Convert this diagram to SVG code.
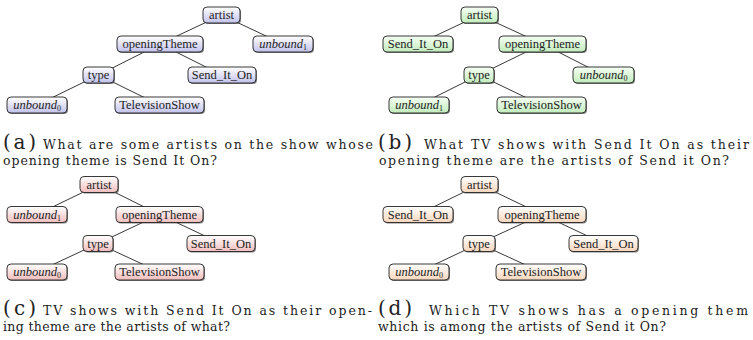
<svg xmlns="http://www.w3.org/2000/svg" width="753" height="340" viewBox="0 0 753 340">
  <defs>
    <linearGradient id="gA" x1="0" y1="0" x2="0" y2="1">
      <stop offset="0" stop-color="#ffffff"/>
      <stop offset="1" stop-color="#c2c2ec"/>
    </linearGradient>
    <linearGradient id="gB" x1="0" y1="0" x2="0" y2="1">
      <stop offset="0" stop-color="#f6fff4"/>
      <stop offset="1" stop-color="#c2ecbc"/>
    </linearGradient>
    <linearGradient id="gC" x1="0" y1="0" x2="0" y2="1">
      <stop offset="0" stop-color="#ffffff"/>
      <stop offset="1" stop-color="#f2bdbd"/>
    </linearGradient>
    <linearGradient id="gD" x1="0" y1="0" x2="0" y2="1">
      <stop offset="0" stop-color="#ffffff"/>
      <stop offset="1" stop-color="#f7d6bc"/>
    </linearGradient>
  </defs>
  <style>
    .edge { stroke: #222; stroke-width: 0.9; fill: none; }
    .sh { fill: #555; opacity: 0.75; }
    .box { stroke: #222; stroke-width: 0.9; }
    .a .box { fill: url(#gA); }
    .b .box { fill: url(#gB); }
    .c .box { fill: url(#gC); }
    .d .box { fill: url(#gD); }
    .lbl { font-size: 12.5px; fill: #222; text-anchor: middle; }
    .it { font-style: italic; }
    .sub { font-style: normal; font-size: 8px; }
    .tag { font-size: 20px; fill: #222; }
    .cap { font-size: 12.5px; fill: #222; }
  </style>

  <!-- connectors: drawn centre to centre, node boxes cover the ends -->
  <g id="connectors">
    <!-- tree a -->
    <line class="edge" x1="221.5" y1="15" x2="160" y2="44"/>
    <line class="edge" x1="221.5" y1="15" x2="283" y2="44"/>
    <line class="edge" x1="160" y1="44" x2="98.5" y2="75"/>
    <line class="edge" x1="160" y1="44" x2="222" y2="75"/>
    <line class="edge" x1="98.5" y1="75" x2="37" y2="105"/>
    <line class="edge" x1="98.5" y1="75" x2="159.5" y2="105"/>
    <!-- tree b -->
    <line class="edge" x1="479.5" y1="15" x2="418" y2="44"/>
    <line class="edge" x1="479.5" y1="15" x2="542.5" y2="44"/>
    <line class="edge" x1="542.5" y1="44" x2="479" y2="75"/>
    <line class="edge" x1="542.5" y1="44" x2="603.5" y2="75"/>
    <line class="edge" x1="479" y1="75" x2="419" y2="105"/>
    <line class="edge" x1="479" y1="75" x2="541.5" y2="105"/>
    <!-- tree c -->
    <line class="edge" x1="99" y1="184.5" x2="37" y2="214.5"/>
    <line class="edge" x1="99" y1="184.5" x2="159.5" y2="214.5"/>
    <line class="edge" x1="159.5" y1="214.5" x2="98" y2="243.5"/>
    <line class="edge" x1="159.5" y1="214.5" x2="221" y2="243.5"/>
    <line class="edge" x1="98" y1="243.5" x2="37" y2="272"/>
    <line class="edge" x1="98" y1="243.5" x2="159.5" y2="272"/>
    <!-- tree d -->
    <line class="edge" x1="479.5" y1="184.5" x2="418" y2="214.5"/>
    <line class="edge" x1="479.5" y1="184.5" x2="542" y2="214.5"/>
    <line class="edge" x1="542" y1="214.5" x2="479" y2="243.5"/>
    <line class="edge" x1="542" y1="214.5" x2="603.5" y2="243.5"/>
    <line class="edge" x1="479" y1="243.5" x2="419" y2="272"/>
    <line class="edge" x1="479" y1="243.5" x2="541" y2="272"/>
  </g>

  <g font-family="Liberation Serif, serif">
  <!-- tree a -->
  <g class="a">
    <g id="a-artist"><rect class="sh" x="204" y="8" width="37" height="16" rx="4"/><rect class="box" x="203" y="7" width="37" height="16" rx="4"/><text class="lbl" x="221.5" y="19">artist</text></g>
    <g id="a-openingTheme"><rect class="sh" x="118" y="37" width="86" height="16" rx="4"/><rect class="box" x="117" y="36" width="86" height="16" rx="4"/><text class="lbl" x="160" y="48">openingTheme</text></g>
    <g id="a-unbound1"><rect class="sh" x="254" y="37" width="60" height="16" rx="4"/><rect class="box" x="253" y="36" width="60" height="16" rx="4"/><text class="lbl it" x="283" y="48">unbound<tspan class="sub" dy="2">1</tspan></text></g>
    <g id="a-type"><rect class="sh" x="84" y="68" width="31" height="16" rx="4"/><rect class="box" x="83" y="67" width="31" height="16" rx="4"/><text class="lbl" x="98.5" y="79">type</text></g>
    <g id="a-sendItOn"><rect class="sh" x="189" y="68" width="68" height="16" rx="4"/><rect class="box" x="188" y="67" width="68" height="16" rx="4"/><text class="lbl" x="222" y="79">Send_It_On</text></g>
    <g id="a-unbound0"><rect class="sh" x="8" y="98" width="60" height="16" rx="4"/><rect class="box" x="7" y="97" width="60" height="16" rx="4"/><text class="lbl it" x="37" y="109">unbound<tspan class="sub" dy="2">0</tspan></text></g>
    <g id="a-televisionShow"><rect class="sh" x="116" y="98" width="89" height="16" rx="4"/><rect class="box" x="115" y="97" width="89" height="16" rx="4"/><text class="lbl" x="159.5" y="109">TelevisionShow</text></g>
  </g>

  <!-- tree b -->
  <g class="b">
    <g id="b-artist"><rect class="sh" x="462" y="8" width="37" height="16" rx="4"/><rect class="box" x="461" y="7" width="37" height="16" rx="4"/><text class="lbl" x="479.5" y="19">artist</text></g>
    <g id="b-sendItOn"><rect class="sh" x="384" y="37" width="70" height="16" rx="4"/><rect class="box" x="383" y="36" width="70" height="16" rx="4"/><text class="lbl" x="418" y="48">Send_It_On</text></g>
    <g id="b-openingTheme"><rect class="sh" x="500" y="37" width="87" height="16" rx="4"/><rect class="box" x="499" y="36" width="87" height="16" rx="4"/><text class="lbl" x="542.5" y="48">openingTheme</text></g>
    <g id="b-type"><rect class="sh" x="465" y="68" width="30" height="16" rx="4"/><rect class="box" x="464" y="67" width="30" height="16" rx="4"/><text class="lbl" x="479" y="79">type</text></g>
    <g id="b-unbound0"><rect class="sh" x="574" y="68" width="61" height="16" rx="4"/><rect class="box" x="573" y="67" width="61" height="16" rx="4"/><text class="lbl it" x="603.5" y="79">unbound<tspan class="sub" dy="2">0</tspan></text></g>
    <g id="b-unbound1"><rect class="sh" x="390" y="98" width="60" height="16" rx="4"/><rect class="box" x="389" y="97" width="60" height="16" rx="4"/><text class="lbl it" x="419" y="109">unbound<tspan class="sub" dy="2">1</tspan></text></g>
    <g id="b-televisionShow"><rect class="sh" x="498" y="98" width="89" height="16" rx="4"/><rect class="box" x="497" y="97" width="89" height="16" rx="4"/><text class="lbl" x="541.5" y="109">TelevisionShow</text></g>
  </g>

  <!-- tree c -->
  <g class="c">
    <g id="c-artist"><rect class="sh" x="81" y="177.5" width="38" height="16" rx="4"/><rect class="box" x="80" y="176.5" width="38" height="16" rx="4"/><text class="lbl" x="99" y="188.5">artist</text></g>
    <g id="c-unbound1"><rect class="sh" x="8" y="207.5" width="60" height="16" rx="4"/><rect class="box" x="7" y="206.5" width="60" height="16" rx="4"/><text class="lbl it" x="37" y="218.5">unbound<tspan class="sub" dy="2">1</tspan></text></g>
    <g id="c-openingTheme"><rect class="sh" x="117" y="207.5" width="87" height="16" rx="4"/><rect class="box" x="116" y="206.5" width="87" height="16" rx="4"/><text class="lbl" x="159.5" y="218.5">openingTheme</text></g>
    <g id="c-type"><rect class="sh" x="84" y="236.5" width="30" height="16" rx="4"/><rect class="box" x="83" y="235.5" width="30" height="16" rx="4"/><text class="lbl" x="98" y="247.5">type</text></g>
    <g id="c-sendItOn"><rect class="sh" x="188" y="236.5" width="68" height="16" rx="4"/><rect class="box" x="187" y="235.5" width="68" height="16" rx="4"/><text class="lbl" x="221" y="247.5">Send_It_On</text></g>
    <g id="c-unbound0"><rect class="sh" x="8" y="265" width="60" height="16" rx="4"/><rect class="box" x="7" y="264" width="60" height="16" rx="4"/><text class="lbl it" x="37" y="276">unbound<tspan class="sub" dy="2">0</tspan></text></g>
    <g id="c-televisionShow"><rect class="sh" x="116" y="265" width="89" height="16" rx="4"/><rect class="box" x="115" y="264" width="89" height="16" rx="4"/><text class="lbl" x="159.5" y="276">TelevisionShow</text></g>
  </g>

  <!-- tree d -->
  <g class="d">
    <g id="d-artist"><rect class="sh" x="462" y="177.5" width="37" height="16" rx="4"/><rect class="box" x="461" y="176.5" width="37" height="16" rx="4"/><text class="lbl" x="479.5" y="188.5">artist</text></g>
    <g id="d-sendItOn-left"><rect class="sh" x="384" y="207.5" width="70" height="16" rx="4"/><rect class="box" x="383" y="206.5" width="70" height="16" rx="4"/><text class="lbl" x="418" y="218.5">Send_It_On</text></g>
    <g id="d-openingTheme"><rect class="sh" x="499" y="207.5" width="88" height="16" rx="4"/><rect class="box" x="498" y="206.5" width="88" height="16" rx="4"/><text class="lbl" x="542" y="218.5">openingTheme</text></g>
    <g id="d-type"><rect class="sh" x="464" y="236.5" width="32" height="16" rx="4"/><rect class="box" x="463" y="235.5" width="32" height="16" rx="4"/><text class="lbl" x="479" y="247.5">type</text></g>
    <g id="d-sendItOn-right"><rect class="sh" x="570" y="236.5" width="69" height="16" rx="4"/><rect class="box" x="569" y="235.5" width="69" height="16" rx="4"/><text class="lbl" x="603.5" y="247.5">Send_It_On</text></g>
    <g id="d-unbound0"><rect class="sh" x="390" y="265" width="60" height="16" rx="4"/><rect class="box" x="389" y="264" width="60" height="16" rx="4"/><text class="lbl it" x="419" y="276">unbound<tspan class="sub" dy="2">0</tspan></text></g>
    <g id="d-televisionShow"><rect class="sh" x="497" y="265" width="90" height="16" rx="4"/><rect class="box" x="496" y="264" width="90" height="16" rx="4"/><text class="lbl" x="541" y="276">TelevisionShow</text></g>
  </g>
  </g>

  <!-- captions -->
  <g id="captions" font-family="DejaVu Serif, serif">
    <text class="tag" x="3" y="149" textLength="33" lengthAdjust="spacing">(a)</text>
    <text class="cap" x="43" y="149" textLength="330" lengthAdjust="spacing">What are some artists on the show whose</text>
    <text class="cap" x="3" y="165" textLength="214" lengthAdjust="spacing">opening theme is Send It On?</text>

    <text class="tag" x="378" y="149" textLength="34" lengthAdjust="spacing">(b)</text>
    <text class="cap" x="424" y="149" textLength="325" lengthAdjust="spacing">What TV shows with Send It On as their</text>
    <text class="cap" x="379" y="165" textLength="350" lengthAdjust="spacing">opening theme are the artists of Send it On?</text>

    <text class="tag" x="3" y="315" textLength="33" lengthAdjust="spacing">(c)</text>
    <text class="cap" x="43" y="315" textLength="329" lengthAdjust="spacing">TV shows with Send It On as their open-</text>
    <text class="cap" x="3" y="331" textLength="227" lengthAdjust="spacing">ing theme are the artists of what?</text>

    <text class="tag" x="378" y="315" textLength="34" lengthAdjust="spacing">(d)</text>
    <text class="cap" x="429" y="315" textLength="319" lengthAdjust="spacing">Which TV shows has a opening them</text>
    <text class="cap" x="378" y="331" textLength="288" lengthAdjust="spacing">which is among the artists of Send it On?</text>
  </g>
</svg>
